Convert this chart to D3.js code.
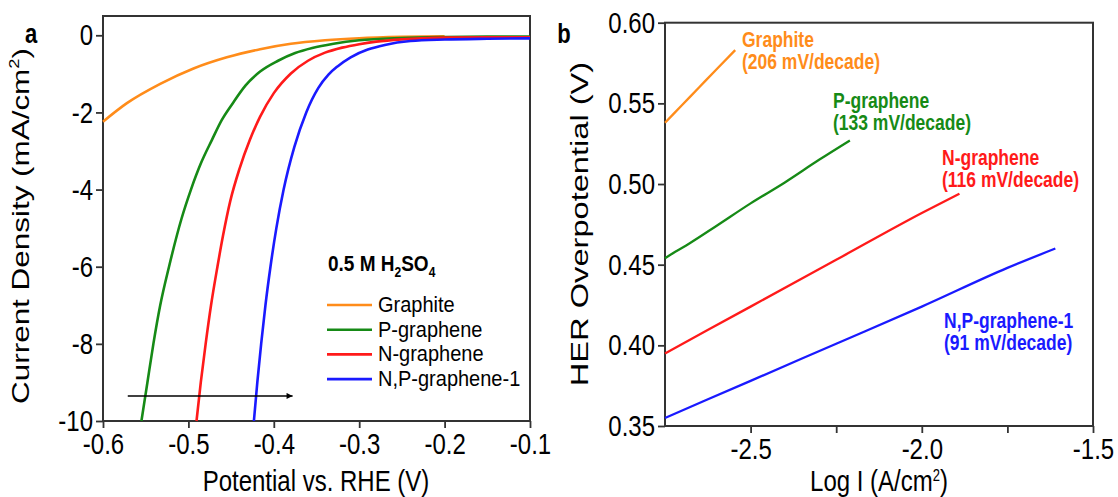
<!DOCTYPE html>
<html lang="en">
<head>
<meta charset="utf-8">
<title>HER polarization and Tafel plots</title>
<script src="https://d3js.org/d3.v7.min.js"></script>
<style>
body { margin: 0; background: #fff; }
text { font-family: Arial, "Liberation Sans", sans-serif; }
</style>
</head>
<body>
<script type="text/javascript">
var w = 1118;
var h = 497;
var SY = 1.25;   // the source figure is stretched a little in height
var SYROT = 1.36; // same stretch, seen along the rotated titles

// ---- data, panel a: polarization curves [potential V, current mA/cm2]
var seriesNames = ["Graphite", "P-graphene", "N-graphene", "N,P-graphene-1"];
var seriesColors = ["#ff8c1a", "#168a16", "#ff1a1a", "#1a1aff"];

var graphiteLSV = [[-0.6,-2.24],[-0.572,-1.76],[-0.533,-1.26],[-0.494,-0.86],[-0.455,-0.57],
  [-0.416,-0.36],[-0.38,-0.22],[-0.34,-0.13],[-0.30,-0.075],[-0.25,-0.04],[-0.20,-0.025]];
var pGrapheneLSV = [[-0.10,-0.03],[-0.15,-0.035],[-0.20,-0.045],[-0.25,-0.07],[-0.30,-0.13],
  [-0.33,-0.22],[-0.355,-0.33],[-0.375,-0.46],[-0.395,-0.66],[-0.416,-0.94],[-0.433,-1.3],
  [-0.448,-1.76],[-0.461,-2.2],[-0.4724,-2.71],[-0.485,-3.3],[-0.497,-4.0],[-0.508,-4.75],
  [-0.5227,-6.0],[-0.533,-7.0],[-0.541,-8.0],[-0.548,-9.0],[-0.555,-10]];
var nGrapheneLSV = [[-0.10,-0.05],[-0.15,-0.05],[-0.20,-0.06],[-0.25,-0.105],[-0.28,-0.165],
  [-0.30,-0.23],[-0.32,-0.32],[-0.34,-0.45],[-0.36,-0.66],[-0.38,-0.99],[-0.40,-1.5],
  [-0.416,-2.11],[-0.428,-2.71],[-0.44,-3.45],[-0.451,-4.3],[-0.4595,-5.2],[-0.466,-6.0],
  [-0.4735,-7.0],[-0.4798,-8.0],[-0.4855,-9.0],[-0.4905,-10]];
var npGrapheneLSV = [[-0.10,-0.08],[-0.15,-0.09],[-0.20,-0.11],[-0.24,-0.15],[-0.27,-0.25],
  [-0.29,-0.37],[-0.31,-0.57],[-0.325,-0.8],[-0.336,-1.02],[-0.348,-1.37],[-0.362,-2.0],
  [-0.376,-2.9],[-0.3885,-4.0],[-0.397,-5.0],[-0.4039,-6.0],[-0.4098,-7.0],[-0.4148,-8.0],
  [-0.4193,-9.0],[-0.4233,-10]];

// ---- data, panel b: Tafel lines [log I, overpotential V]
var graphiteTafel = [[-2.75,0.538],[-2.70,0.549],[-2.65,0.560],[-2.60,0.571],[-2.545,0.583]];
var pGrapheneTafel = [[-2.75,0.454],[-2.72,0.458],[-2.68,0.463],[-2.60,0.474],[-2.50,0.488],
  [-2.40,0.501],[-2.30,0.515],[-2.21,0.527]];
var nGrapheneTafel = [[-2.75,0.395],[-2.50,0.424],[-2.25,0.453],[-2.00,0.482],[-1.89,0.494]];
var npGrapheneTafel = [[-2.75,0.355],[-2.50,0.378],[-2.25,0.401],[-2.00,0.424],[-1.75,0.448],[-1.61,0.460]];
var tafelSlopes = ["(206 mV/decade)", "(133 mV/decade)", "(116 mV/decade)", "(91 mV/decade)"];

// ---- ticks
var xTicksA = [-0.6, -0.5, -0.4, -0.3, -0.2, -0.1];
var xTickLabelsA = ["-0.6", "-0.5", "-0.4", "-0.3", "-0.2", "-0.1"];
var yTicksA = [0, -2, -4, -6, -8, -10];
var yTickLabelsA = ["0", "-2", "-4", "-6", "-8", "-10"];
var xTicksB = [-2.5, -2.25, -2.0, -1.75, -1.5];
var xTickLabelsB = ["-2.5", "", "-2.0", "", "-1.5"];
var yTicksB = [0.35, 0.40, 0.45, 0.50, 0.55, 0.60];
var yTickLabelsB = ["0.35", "0.40", "0.45", "0.50", "0.55", "0.60"];

var svg = d3.select("body").append("svg").attr("width", w).attr("height", h);

// scales
var xA = d3.scaleLinear().domain([-0.6, -0.1]).range([103, 530]);
var yA = d3.scaleLinear().domain([-10, 0.5]).range([421, 16]);
var xB = d3.scaleLinear().domain([-2.75, -1.5]).range([665, 1093]);
var yB = d3.scaleLinear().domain([0.35, 0.60]).range([426, 22.7]);

// stretched text helper
function label(g, x, y, str, size, weight, anchor, fill, rotate, sy) {
  var k = sy || (rotate ? SYROT : SY);
  var t = g.append("text")
    .attr("font-size", size + "px")
    .attr("font-weight", weight)
    .attr("text-anchor", anchor)
    .attr("fill", fill || "#000");
  if (rotate) t.attr("transform", "translate(" + x + "," + y + ") rotate(-90) scale(" + k + ",1)");
  else t.attr("transform", "translate(" + x + "," + y + ") scale(1," + k + ")");
  if (str !== null) t.text(str);
  return t;
}

function drawAxes(xs, ys, xt, xl, yt, yl) {
  var x0 = xs.range()[0], x1 = xs.range()[1];
  var y0 = ys.range()[0], y1 = ys.range()[1];
  var gx = svg.append("g").attr("transform", "translate(0," + y0 + ")")
    .call(d3.axisBottom(xs).tickValues(xt).tickSize(7).tickSizeOuter(0)
      .tickFormat(function(d, i) { return xl[i]; }));
  var gy = svg.append("g").attr("transform", "translate(" + x0 + ",0)")
    .call(d3.axisLeft(ys).tickValues(yt).tickSize(7).tickSizeOuter(0)
      .tickFormat(function(d, i) { return yl[i]; }));
  [gx, gy].forEach(function(g) {
    g.select(".domain").remove();
    g.selectAll(".tick line").attr("stroke", "#333").attr("stroke-width", 1.8);
    g.selectAll(".tick text").attr("font-size", "24px").attr("fill", "#000")
      .attr("font-family", "Arial, 'Liberation Sans', sans-serif");
  });
  gx.selectAll(".tick text").attr("y", 12 / SY).attr("transform", "scale(1," + SY + ")");
  gy.selectAll(".tick text").attr("x", -10).attr("transform", "scale(1," + SY + ")");
  svg.append("rect").attr("x", x0).attr("y", y1).attr("width", x1 - x0).attr("height", y0 - y1)
    .attr("fill", "none").attr("stroke", "#333").attr("stroke-width", 2);
}

function byX(d) { return d.slice().sort(function(a, b) { return a[0] - b[0]; }); }

// ---------------- panel a
drawAxes(xA, yA, xTicksA, xTickLabelsA, yTicksA, yTickLabelsA);
var lineA = d3.line().x(function(d) { return xA(d[0]); }).y(function(d) { return yA(d[1]); })
  .curve(d3.curveMonotoneX);
var lsv = [graphiteLSV, pGrapheneLSV, nGrapheneLSV, npGrapheneLSV];
svg.append("g").selectAll("path").data(lsv).enter().append("path")
  .attr("d", function(d) { return lineA(byX(d)); })
  .attr("fill", "none")
  .attr("stroke", function(d, i) { return seriesColors[i]; })
  .attr("stroke-width", 2.6);

// arrow
svg.append("defs").append("marker").attr("id", "head")
  .attr("viewBox", "0 0 10 10").attr("refX", 10).attr("refY", 5)
  .attr("markerWidth", 10).attr("markerHeight", 6).attr("markerUnits", "userSpaceOnUse")
  .attr("orient", "auto")
  .append("path").attr("d", "M0,0L10,5L0,10Z").attr("fill", "#000");
svg.append("line").attr("x1", xA(-0.571)).attr("x2", xA(-0.378))
  .attr("y1", yA(-9.35)).attr("y2", yA(-9.35))
  .attr("stroke", "#000").attr("stroke-width", 1.5).attr("marker-end", "url(#head)");

// legend
var lg = svg.append("g");
var tt = label(lg, 328, 271, null, 19, "bold", "start", "#000", false, 1.15);
tt.append("tspan").text("0.5 M H");
tt.append("tspan").attr("font-size", "12px").attr("dy", 5).text("2");
tt.append("tspan").attr("dy", -5).text("SO");
tt.append("tspan").attr("font-size", "12px").attr("dy", 5).text("4");
seriesNames.forEach(function(name, i) {
  var yy = 305 + i * 24.7;
  lg.append("line").attr("x1", 327).attr("x2", 372).attr("y1", yy).attr("y2", yy)
    .attr("stroke", seriesColors[i]).attr("stroke-width", 2.6);
  label(lg, 378, yy + 7, name, 20, "normal", "start", "#000", false, 1.1);
});

label(svg, 31, 43, "a", 22, "bold", "middle");
label(svg, 316, 491, "Potential vs. RHE (V)", 24, "normal", "middle");
var tya = label(svg, 29, 226, null, 24, "normal", "middle", "#000", true, 1.31);
tya.append("tspan").text("Current Density (mA/cm");
tya.append("tspan").attr("font-size", "14px").attr("dy", -10).text("2");
tya.append("tspan").attr("dy", 10).text(")");

// ---------------- panel b
drawAxes(xB, yB, xTicksB, xTickLabelsB, yTicksB, yTickLabelsB);
var tafel = [graphiteTafel, pGrapheneTafel, nGrapheneTafel, npGrapheneTafel];
var lineB = d3.line().x(function(d) { return xB(d[0]); }).y(function(d) { return yB(d[1]); })
  .curve(d3.curveMonotoneX);
svg.append("g").selectAll("path").data(tafel).enter().append("path")
  .attr("d", lineB)
  .attr("fill", "none")
  .attr("stroke", function(d, i) { return seriesColors[i]; })
  .attr("stroke-width", 2.3);

var annX = [742, 833, 942, 944];
var annY = [47, 108, 165, 328];
seriesNames.forEach(function(name, i) {
  label(svg, annX[i], annY[i], name, 17.5, "bold", "start", seriesColors[i]);
  label(svg, annX[i], annY[i] + 22, tafelSlopes[i], 17.5, "bold", "start", seriesColors[i]);
});

label(svg, 564, 43, "b", 22, "bold", "middle");
var tb = label(svg, 879, 491, null, 24, "normal", "middle");
tb.append("tspan").text("Log I (A/cm");
tb.append("tspan").attr("font-size", "13px").attr("dy", -8).text("2");
tb.append("tspan").attr("dy", 8).text(")");
label(svg, 588, 224, "HER Overpotential (V)", 24, "normal", "middle", "#000", true);
</script>
</body>
</html>
